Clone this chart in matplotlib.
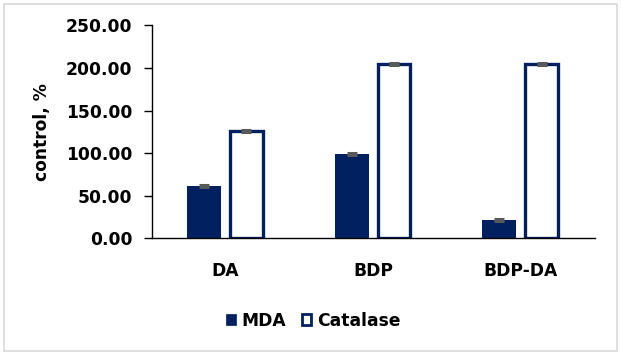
import matplotlib
matplotlib.use('Agg')
import matplotlib.pyplot as plt
import numpy as np
from matplotlib.patches import Patch, Rectangle

categories = ['DA', 'BDP', 'BDP-DA']
mda = [61.0, 99.0, 21.5]
catalase = [125.5, 205.0, 204.2]
mda_err = [1.0, 1.0, 1.2]
catalase_err = [1.2, 1.2, 1.2]
y_ticks = [0, 50, 100, 150, 200, 250]

navy = '#002060'
err_color = '#595959'

plt.rcParams['font.family'] = ['DejaVu Sans']
plt.rcParams['font.weight'] = 'bold'
plt.rcParams['font.size'] = 12.3

fig = plt.figure(figsize=(6.21, 3.55), dpi=100)
ax = fig.add_axes([0.2443, 0.3287, 0.7134, 0.6000])

x = np.arange(len(categories))

ax.bar(x - 0.145, mda, width=0.23, color=navy, edgecolor='none',
       yerr=mda_err, error_kw=dict(ecolor=err_color, elinewidth=1,
                                   capsize=3.6, capthick=2.2))
ax.bar(x + 0.14, catalase, width=0.222, color='white', edgecolor=navy,
       linewidth=2.4, yerr=catalase_err,
       error_kw=dict(ecolor=err_color, elinewidth=1, capsize=3.6,
                     capthick=2.2))

ax.set_xlim(-0.5, 2.5)
ax.set_ylim(0, 250)
ax.set_yticks(y_ticks)
ax.set_yticklabels(['%.2f' % v for v in y_ticks])
ax.set_xticks(x)
ax.set_xticklabels(categories)

for side in ['top', 'right']:
    ax.spines[side].set_visible(False)
ax.spines['left'].set_linewidth(1.0)
ax.spines['bottom'].set_linewidth(1.0)
ax.tick_params(axis='y', direction='out', length=6, width=1, pad=8)
ax.tick_params(axis='x', length=0, pad=17)

ax.set_ylabel('control, %', fontweight='bold')
ax.yaxis.set_label_coords(-0.227, 0.5)

handles = [Patch(facecolor=navy, edgecolor=navy, linewidth=0.5, label='MDA'),
           Patch(facecolor='white', edgecolor=navy, linewidth=2.0,
                 label='Catalase')]
fig.legend(handles=handles, loc='center', bbox_to_anchor=(0.505, 0.097),
           ncol=2, frameon=False, handlelength=0.55, handleheight=0.55,
           handletextpad=0.35, columnspacing=0.9)

# light grey frame around the whole chart
fig.patches.append(Rectangle((0.006, 0.01), 0.988, 0.98,
                             transform=fig.transFigure, fill=False,
                             edgecolor='#d9d9d9', linewidth=1.2))

fig.savefig('out.png', dpi=100)
